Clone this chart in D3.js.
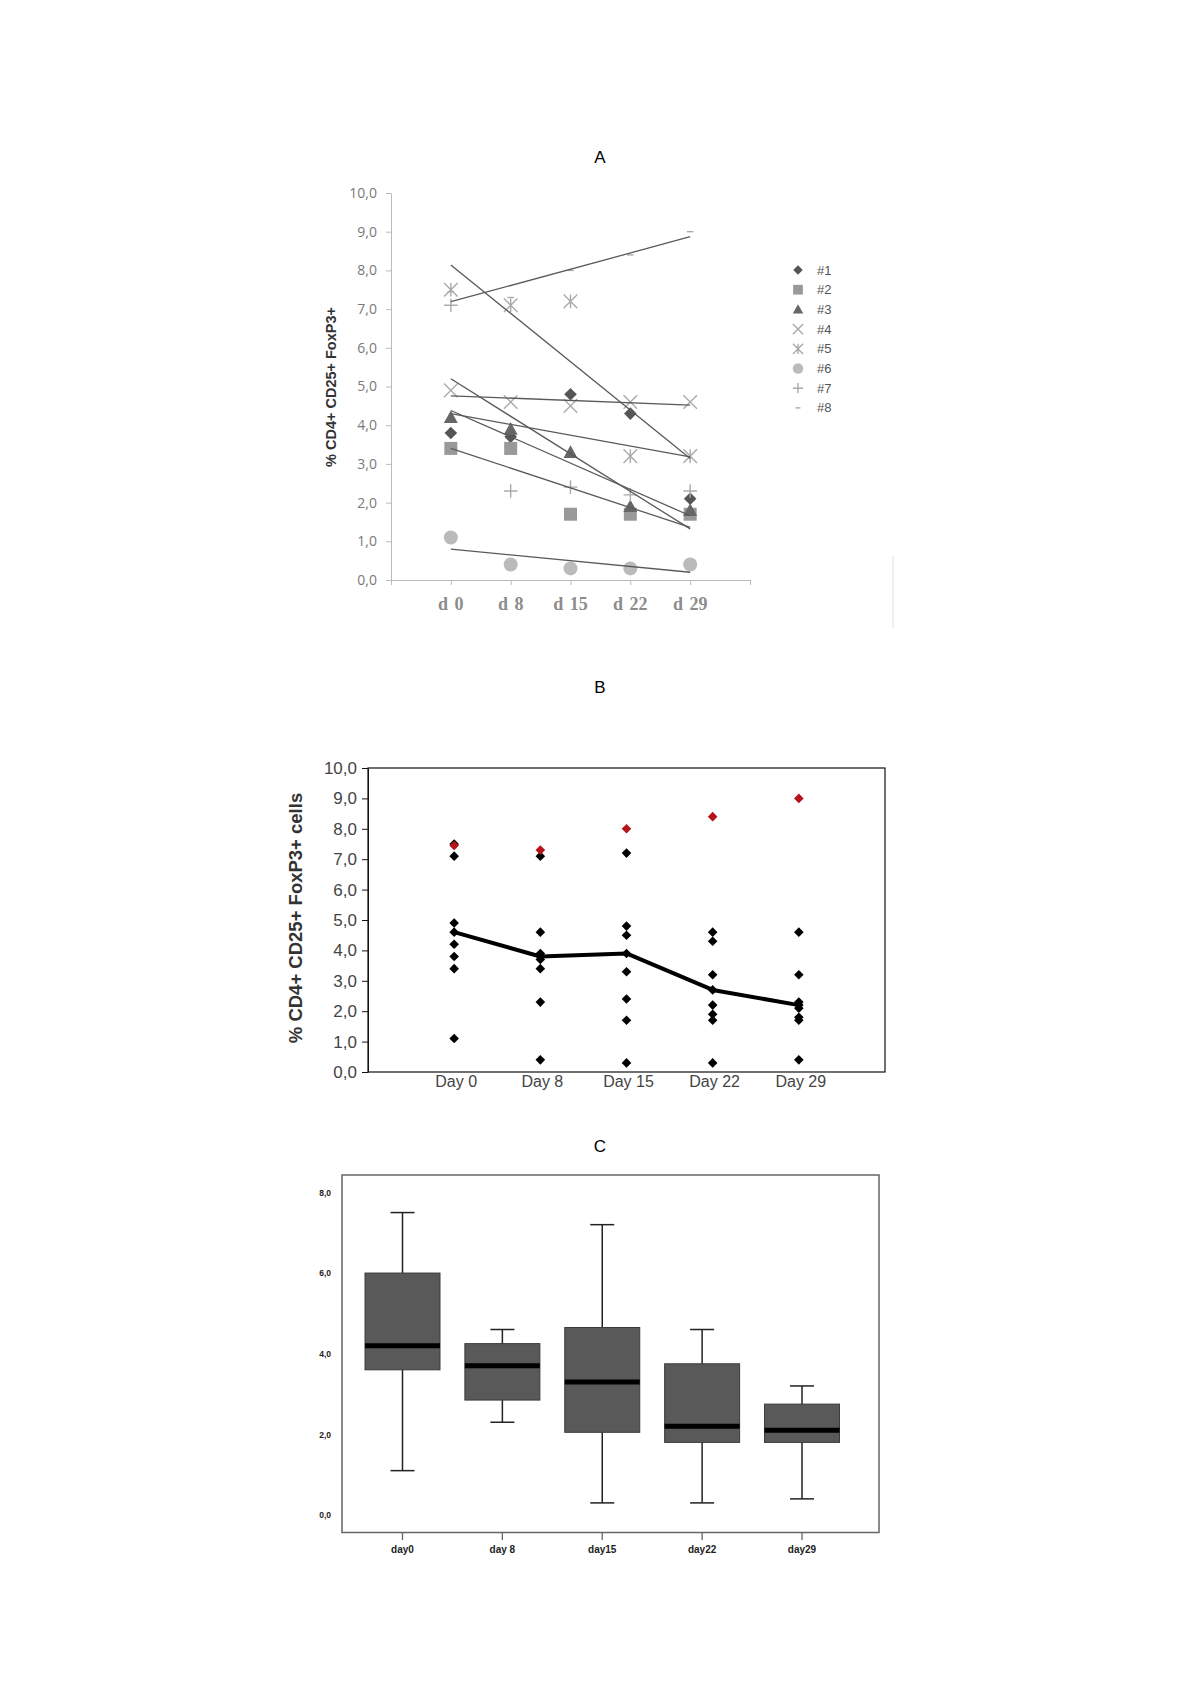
<!DOCTYPE html>
<html>
<head>
<meta charset="utf-8">
<script src="https://cdn.jsdelivr.net/npm/d3@7"></script>
<style>
  body { margin: 0; background: #fff; }
  svg { display: block; }
</style>
</head>
<body>
<div id="chart"></div>
<script>
// ---- data ----
var daysA = ['d 0', 'd 8', 'd 15', 'd 22', 'd 29'];
var daysB = ['Day 0', 'Day 8', 'Day 15', 'Day 22', 'Day 29'];
var daysC = ['day0', 'day 8', 'day15', 'day22', 'day29'];
var patients = ['#1', '#2', '#3', '#4', '#5', '#6', '#7', '#8'];

// % CD4+ CD25+ FoxP3+ per patient, d0..d29
var p1 = [3.8, 3.7, 4.8, 4.3, 2.1];
var p2 = [3.4, 3.4, 1.7, 1.7, 1.7];
var p3 = [4.2, 3.9, 3.3, 1.9, 1.8];
var p4 = [4.9, 4.6, 4.5, 4.6, 4.6];
var p5 = [7.5, 7.1, 7.2, 3.2, 3.2];
var p6 = [1.1, 0.4, 0.3, 0.3, 0.4];
var p7 = [7.1, 2.3, 2.4, 2.2, 2.3];
var p8 = [7.45, 7.3, 8.0, 8.4, 9.0];

// panel B mean line
var meanLine = [4.6, 3.8, 3.9, 2.7, 2.2];

// panel C box plot stats
var boxLow    = [1.1, 2.3, 0.3, 0.3, 0.4];
var boxQ1     = [3.6, 2.85, 2.05, 1.8, 1.8];
var boxMedian = [4.2, 3.7, 3.3, 2.2, 2.1];
var boxQ3     = [6.0, 4.25, 4.65, 3.75, 2.75];
var boxHigh   = [7.5, 4.6, 7.2, 4.6, 3.2];

var yTicksA = [0, 1, 2, 3, 4, 5, 6, 7, 8, 9, 10];
var yTicksC = [0, 2, 4, 6, 8];

var series = [p1, p2, p3, p4, p5, p6, p7, p8];
var markerTypes = ['diamond', 'square', 'triangle', 'x', 'asterisk', 'circle', 'plus', 'dash'];
var markerColors = ['#555', '#999', '#666', '#aaa', '#aaa', '#bbb', '#aaa', '#aaa'];

var fmt = d3.formatLocale({decimal: ',', thousands: '.', grouping: [3], currency: ['', '']}).format('.1f');

var svg = d3.select('#chart').append('svg')
  .attr('width', 1200)
  .attr('height', 1698);

function title(txt, y) {
  svg.append('text')
    .attr('x', 600).attr('y', y)
    .attr('text-anchor', 'middle')
    .style('font-family', 'Liberation Sans, Arial, sans-serif')
    .style('font-size', '17px')
    .text(txt);
}

// marker shapes, centered on 0,0
function markerPath(type, r) {
  switch (type) {
    case 'diamond': return `M0,${-r}L${r},0L0,${r}L${-r},0Z`;
    case 'square': return `M${-r},${-r}H${r}V${r}H${-r}Z`;
    case 'triangle': return `M0,${-r}L${r},${r * 0.8}L${-r},${r * 0.8}Z`;
    case 'x': return `M${-r},${-r}L${r},${r}M${-r},${r}L${r},${-r}`;
    case 'asterisk': return `M${-r},${-r}L${r},${r}M${-r},${r}L${r},${-r}M0,${-r}V${r}`;
    case 'plus': return `M${-r},0H${r}M0,${-r}V${r}`;
    case 'dash': return `M${-r * 0.5},0H${r * 0.5}`;
    case 'circle': return d3.symbol(d3.symbolCircle, Math.PI * r * r)();
  }
}
var markerSize = {diamond: 6.3, square: 6.5, triangle: 7, x: 6.8, asterisk: 6.8, circle: 7, plus: 6.8, dash: 6.5};
var stroked = {x: 1, asterisk: 1, plus: 1, dash: 1};

function drawMarker(g, type, color, r) {
  var p = g.append('path').attr('d', markerPath(type, r || markerSize[type]));
  if (stroked[type]) p.attr('fill', 'none').attr('stroke', color).attr('stroke-width', 1.4);
  else p.attr('fill', color);
  return p;
}

// ================= A =================
title('A', 163);

var xA = d3.scaleLinear().domain([0, 6]).range([391, 750]);
var yA = d3.scaleLinear().domain([0, 10]).range([580, 193]);
var gA = svg.append('g');

var axA = gA.append('g')
  .attr('transform', 'translate(391,0)')
  .call(d3.axisLeft(yA).tickValues(yTicksA).tickSize(5).tickSizeOuter(0).tickPadding(9).tickFormat(fmt));
axA.select('.domain').attr('stroke', '#bbb');
axA.selectAll('.tick line').attr('stroke', '#bbb');
axA.selectAll('.tick text')
  .attr('fill', '#7a7a7a')
  .style('font-family', 'Open Sans, Liberation Sans, sans-serif')
  .style('font-size', '14px');

var axAx = gA.append('g')
  .attr('transform', 'translate(0,580)')
  .call(d3.axisBottom(xA).tickValues([0, 1, 2, 3, 4, 5, 6]).tickSize(5).tickSizeOuter(0).tickFormat(''));
axAx.select('.domain').attr('stroke', '#bbb');
axAx.selectAll('.tick line').attr('stroke', '#bbb');

gA.selectAll('.xlabA')
  .data(daysA)
  .enter().append('text')
  .attr('x', function(d, i) { return xA(i + 1); })
  .attr('y', 610)
  .attr('text-anchor', 'middle')
  .attr('fill', '#8c8c8c')
  .style('font-family', 'Liberation Serif, Times New Roman, serif')
  .style('font-weight', 'bold')
  .style('font-size', '18px')
  .style('word-spacing', '2px')
  .text(function(d) { return d; });

gA.append('text')
  .attr('transform', 'translate(336,387) rotate(-90)')
  .attr('text-anchor', 'middle')
  .attr('fill', '#333')
  .style('font-family', 'Liberation Sans, Arial, sans-serif')
  .style('font-weight', 'bold')
  .style('font-size', '14.5px')
  .text('% CD4+ CD25+ FoxP3+');

// markers
series.forEach(function(vals, s) {
  vals.forEach(function(v, i) {
    var g = gA.append('g').attr('transform', `translate(${xA(i + 1)},${yA(v)})`);
    drawMarker(g, markerTypes[s], markerColors[s]);
  });
});

// linear trend lines (least squares over category index 1..5)
series.forEach(function(vals) {
  var xs = vals.map(function(v, i) { return i + 1; });
  var mx = d3.mean(xs), my = d3.mean(vals);
  var slope = d3.sum(xs, function(x, i) { return (x - mx) * (vals[i] - my); }) /
              d3.sum(xs, function(x) { return (x - mx) * (x - mx); });
  var f = function(x) { return my + slope * (x - mx); };
  gA.append('line')
    .attr('x1', xA(1)).attr('y1', yA(f(1)))
    .attr('x2', xA(5)).attr('y2', yA(f(5)))
    .attr('stroke', '#5a5a5a')
    .attr('stroke-width', 1.3);
});

// legend
var legA = gA.append('g');
patients.forEach(function(name, s) {
  var y = 270 + s * 19.7;
  var g = legA.append('g').attr('transform', `translate(798,${y})`);
  drawMarker(g, markerTypes[s], markerColors[s], markerSize[markerTypes[s]] * 0.75);
  legA.append('text')
    .attr('x', 817).attr('y', y + 4.5)
    .attr('fill', '#555')
    .style('font-family', 'Liberation Sans Narrow, Liberation Sans, Arial, sans-serif')
    .style('font-size', '13px')
    .text(name);
});

// faint scan edge
gA.append('line')
  .attr('x1', 893).attr('x2', 893).attr('y1', 556).attr('y2', 628)
  .attr('stroke', '#efefef').attr('stroke-width', 2);

// ================= B =================
title('B', 693);

var xB = d3.scaleLinear().domain([0, 6]).range([368, 885]);
var yB = d3.scaleLinear().domain([0, 10]).range([1072, 768]);
var gB = svg.append('g');

gB.append('rect')
  .attr('x', xB(0)).attr('y', yB(10))
  .attr('width', xB(6) - xB(0)).attr('height', yB(0) - yB(10))
  .attr('fill', 'none').attr('stroke', '#111').attr('stroke-width', 1.2);

var axB = gB.append('g')
  .attr('transform', `translate(${xB(0)},0)`)
  .call(d3.axisLeft(yB).tickValues(yTicksA).tickSize(6).tickSizeOuter(0).tickPadding(5).tickFormat(fmt));
axB.select('.domain').attr('stroke', '#111');
axB.selectAll('.tick line').attr('stroke', '#111');
axB.selectAll('.tick text')
  .attr('fill', '#444')
  .style('font-family', 'Liberation Sans, Arial, sans-serif')
  .style('font-size', '17px');

gB.selectAll('.xlabB')
  .data(daysB)
  .enter().append('text')
  .attr('x', function(d, i) { return xB(i + 1) + 2; })
  .attr('y', 1087)
  .attr('text-anchor', 'middle')
  .attr('fill', '#444')
  .style('font-family', 'Liberation Sans, Arial, sans-serif')
  .style('font-size', '16px')
  .text(function(d) { return d; });

gB.append('text')
  .attr('transform', 'translate(302,918) rotate(-90)')
  .attr('text-anchor', 'middle')
  .attr('fill', '#333')
  .style('font-family', 'Liberation Sans, Arial, sans-serif')
  .style('font-weight', 'bold')
  .style('font-size', '18.5px')
  .text('% CD4+ CD25+ FoxP3+ cells');

// black points: patients #1..#7
series.slice(0, 7).forEach(function(vals) {
  vals.forEach(function(v, i) {
    var g = gB.append('g').attr('transform', `translate(${xB(i + 1)},${yB(v)})`);
    drawMarker(g, 'diamond', '#000', 4.8);
  });
});

// mean line
gB.append('path')
  .datum(meanLine)
  .attr('d', d3.line().x(function(d, i) { return xB(i + 1); }).y(function(d) { return yB(d); }))
  .attr('fill', 'none')
  .attr('stroke', '#000')
  .attr('stroke-width', 4)
  .attr('stroke-linejoin', 'round');
meanLine.forEach(function(v, i) {
  var g = gB.append('g').attr('transform', `translate(${xB(i + 1)},${yB(v)})`);
  drawMarker(g, 'diamond', '#000', 4.8);
});

// red points: patient #8
p8.forEach(function(v, i) {
  var g = gB.append('g').attr('transform', `translate(${xB(i + 1)},${yB(v)})`);
  drawMarker(g, 'diamond', '#b5121b', 4.8);
});

// ================= C =================
title('C', 1152);

var xC = d3.scaleLinear().domain([0, 4]).range([402.5, 802]);
var yC = d3.scaleLinear().domain([0, 8]).range([1515, 1192.4]);
var gC = svg.append('g');

gC.append('rect')
  .attr('x', 342).attr('y', 1175)
  .attr('width', 537).attr('height', 357.5)
  .attr('fill', 'none').attr('stroke', '#666').attr('stroke-width', 1.5);

var axC = gC.append('g')
  .attr('transform', 'translate(342,0)')
  .call(d3.axisLeft(yC).tickValues(yTicksC).tickSize(0).tickPadding(11).tickFormat(fmt));
axC.select('.domain').remove();
axC.selectAll('.tick text')
  .attr('fill', '#222')
  .style('font-family', 'Liberation Sans Narrow, Liberation Sans, Arial, sans-serif')
  .style('font-weight', 'bold')
  .style('font-size', '8.5px');

daysC.forEach(function(d, i) {
  gC.append('line')
    .attr('x1', xC(i)).attr('x2', xC(i))
    .attr('y1', 1532.5).attr('y2', 1540)
    .attr('stroke', '#666').attr('stroke-width', 1.3);
  gC.append('text')
    .attr('x', xC(i)).attr('y', 1553)
    .attr('text-anchor', 'middle')
    .attr('fill', '#222')
    .style('font-family', 'Liberation Sans Narrow, Liberation Sans, Arial, sans-serif')
    .style('font-weight', 'bold')
    .style('font-size', '10px')
    .text(d);
});

var boxW = 75, capW = 24;
daysC.forEach(function(d, i) {
  var cx = xC(i);
  // whiskers
  gC.append('line')
    .attr('x1', cx).attr('x2', cx).attr('y1', yC(boxHigh[i])).attr('y2', yC(boxLow[i]))
    .attr('stroke', '#222').attr('stroke-width', 1.5);
  [boxHigh[i], boxLow[i]].forEach(function(v) {
    gC.append('line')
      .attr('x1', cx - capW / 2).attr('x2', cx + capW / 2)
      .attr('y1', yC(v)).attr('y2', yC(v))
      .attr('stroke', '#222').attr('stroke-width', 1.5);
  });
  // box
  gC.append('rect')
    .attr('x', cx - boxW / 2).attr('y', yC(boxQ3[i]))
    .attr('width', boxW).attr('height', yC(boxQ1[i]) - yC(boxQ3[i]))
    .attr('fill', '#595959').attr('stroke', '#3c3c3c').attr('stroke-width', 1);
  // median
  gC.append('line')
    .attr('x1', cx - boxW / 2).attr('x2', cx + boxW / 2)
    .attr('y1', yC(boxMedian[i])).attr('y2', yC(boxMedian[i]))
    .attr('stroke', '#000').attr('stroke-width', 5);
});
</script>
</body>
</html>
